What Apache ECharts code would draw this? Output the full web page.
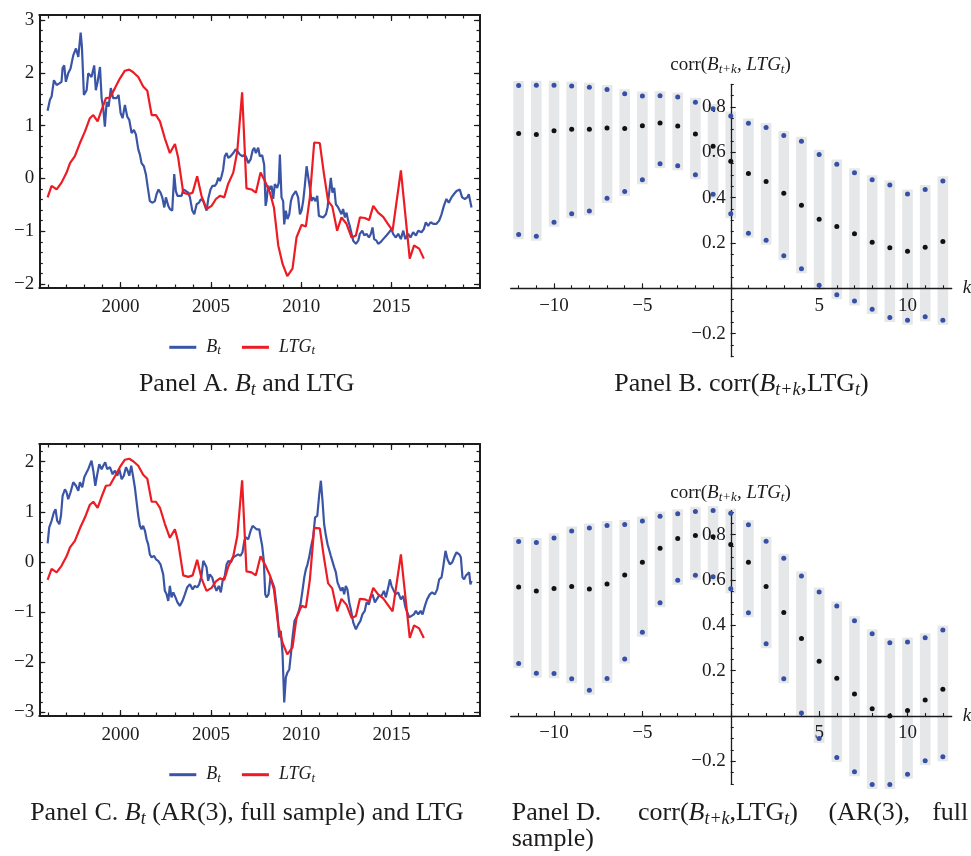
<!DOCTYPE html>
<html><head><meta charset="utf-8">
<script src="https://cdn.jsdelivr.net/npm/echarts@6/dist/echarts.min.js"></script>
<style>html,body{margin:0;padding:0;background:#fff}#c{width:971px;height:856px}</style>
</head><body><div id="c"></div>
<script>
// ---------- data ----------
const yearMajor = [2000, 2005, 2010, 2015];
const yearMinor = [1996,1997,1998,1999,2000,2001,2002,2003,2004,2005,2006,2007,2008,2009,2010,2011,2012,2013,2014,2015,2016,2017,2018,2019];
const yTicksA = [-2, -1, 0, 1, 2, 3];
const yTicksC = [-3, -2, -1, 0, 1, 2];
const kVals = [-12,-11,-10,-9,-8,-7,-6,-5,-4,-3,-2,-1,0,1,2,3,4,5,6,7,8,9,10,11,12];
const kMajor = [-10, -5, 0, 5, 10];
const kLabels = [-10, -5, 5, 10];
const corrMajor = [-0.2, 0, 0.2, 0.4, 0.6, 0.8];
const corrLabels = [-0.2, 0.2, 0.4, 0.6, 0.8];

// Panel B
const bMid = [0.683,0.679,0.695,0.702,0.702,0.708,0.705,0.717,0.730,0.716,0.681,0.627,0.561,0.507,0.471,0.419,0.366,0.305,0.273,0.241,0.203,0.179,0.163,0.181,0.207];
const bLow = [0.237,0.230,0.292,0.329,0.341,0.397,0.427,0.479,0.550,0.541,0.501,0.415,0.329,0.243,0.212,0.144,0.086,0.013,-0.028,-0.056,-0.093,-0.129,-0.141,-0.126,-0.141];
const bUp  = [0.895,0.896,0.896,0.893,0.887,0.877,0.859,0.849,0.850,0.844,0.821,0.793,0.760,0.729,0.710,0.674,0.649,0.591,0.548,0.510,0.479,0.456,0.416,0.436,0.474];
// Panel D
const dMid = [0.569,0.552,0.563,0.572,0.560,0.583,0.622,0.678,0.740,0.783,0.796,0.791,0.757,0.678,0.571,0.457,0.342,0.242,0.167,0.097,0.032,0.000,0.024,0.071,0.118];
const dLow = [0.232,0.189,0.187,0.164,0.114,0.165,0.252,0.370,0.500,0.599,0.621,0.614,0.562,0.456,0.319,0.164,0.013,-0.099,-0.183,-0.246,-0.302,-0.302,-0.257,-0.198,-0.180];
const dUp  = [0.770,0.766,0.786,0.816,0.830,0.841,0.845,0.860,0.882,0.892,0.903,0.907,0.895,0.844,0.771,0.696,0.618,0.547,0.485,0.420,0.363,0.323,0.326,0.345,0.379];

// Panel A: B_t
const bA = [[1995.96,1.28],[1996.09,1.49],[1996.18,1.55],[1996.31,1.86],[1996.46,1.77],[1996.61,1.80],[1996.73,1.83],[1996.79,2.09],[1996.88,2.14],[1996.97,1.83],[1997.10,1.99],[1997.23,2.08],[1997.38,2.33],[1997.53,2.46],[1997.66,2.30],[1997.79,2.76],[1997.86,2.49],[1997.97,1.58],[1998.12,1.67],[1998.21,1.99],[1998.39,1.92],[1998.54,2.14],[1998.63,1.67],[1998.73,1.83],[1998.86,2.11],[1998.95,1.52],[1999.04,1.33],[1999.13,0.98],[1999.23,1.45],[1999.34,1.36],[1999.46,1.71],[1999.59,1.52],[1999.78,1.52],[1999.89,1.58],[2000.00,1.24],[2000.11,1.14],[2000.24,1.39],[2000.37,1.17],[2000.48,1.11],[2000.61,0.86],[2000.74,0.92],[2000.85,0.83],[2000.98,0.55],[2001.07,0.45],[2001.16,0.29],[2001.29,0.23],[2001.40,0.08],[2001.51,-0.18],[2001.62,-0.43],[2001.77,-0.46],[2001.90,-0.43],[2001.99,-0.30],[2002.10,-0.21],[2002.21,-0.27],[2002.31,-0.36],[2002.42,-0.55],[2002.51,-0.36],[2002.64,-0.52],[2002.73,-0.58],[2002.86,-0.61],[2002.97,0.08],[2003.06,-0.24],[2003.15,-0.33],[2003.25,-0.36],[2003.38,-0.33],[2003.47,-0.21],[2003.62,-0.24],[2003.75,-0.27],[2003.84,-0.36],[2003.97,-0.61],[2004.08,-0.68],[2004.21,-0.49],[2004.34,-0.46],[2004.45,-0.39],[2004.58,-0.43],[2004.67,-0.52],[2004.76,-0.61],[2004.87,-0.36],[2004.98,-0.21],[2005.09,-0.14],[2005.22,-0.14],[2005.31,-0.10],[2005.41,0.01],[2005.50,-0.05],[2005.59,0.04],[2005.68,0.17],[2005.77,0.42],[2005.87,0.48],[2005.96,0.39],[2006.09,0.42],[2006.24,0.48],[2006.37,0.55],[2006.48,0.51],[2006.61,0.45],[2006.75,0.42],[2006.88,0.45],[2006.97,0.39],[2007.07,0.29],[2007.20,0.36],[2007.31,0.53],[2007.40,0.58],[2007.49,0.48],[2007.62,0.58],[2007.71,0.42],[2007.84,0.44],[2007.95,0.26],[2008.03,-0.52],[2008.08,-0.43],[2008.17,-0.14],[2008.27,-0.21],[2008.36,-0.14],[2008.45,-0.39],[2008.54,-0.11],[2008.67,-0.18],[2008.76,-0.08],[2008.82,0.45],[2008.91,-0.36],[2009.00,-0.43],[2009.06,-0.87],[2009.15,-0.61],[2009.24,-0.77],[2009.34,-0.68],[2009.43,-0.43],[2009.52,-0.33],[2009.61,-0.30],[2009.70,-0.24],[2009.83,-0.36],[2009.93,-0.68],[2010.02,-0.61],[2010.11,-0.43],[2010.20,-0.14],[2010.30,0.23],[2010.39,0.26],[2010.48,-0.18],[2010.57,-0.43],[2010.66,-0.36],[2010.79,-0.43],[2010.89,-0.33],[2010.98,-0.71],[2011.09,-0.68],[2011.22,-0.74],[2011.37,-0.68],[2011.46,-0.55],[2011.55,-0.52],[2011.64,0.01],[2011.73,-0.27],[2011.83,-0.18],[2011.92,-0.49],[2012.05,-0.55],[2012.14,-0.55],[2012.23,-0.68],[2012.32,-0.58],[2012.42,-0.74],[2012.51,-0.65],[2012.60,-0.80],[2012.69,-0.90],[2012.79,-1.05],[2012.88,-1.18],[2013.03,-1.24],[2013.16,-1.18],[2013.25,-1.05],[2013.38,-0.99],[2013.49,-1.08],[2013.62,-1.05],[2013.75,-1.12],[2013.86,-1.05],[2013.95,-0.93],[2014.04,-1.15],[2014.17,-1.18],[2014.26,-1.24],[2014.39,-1.21],[2014.54,-1.15],[2014.72,-1.08],[2014.87,-1.02],[2015.00,-0.96],[2015.09,-1.05],[2015.24,-1.12],[2015.37,-1.05],[2015.52,-1.15],[2015.65,-0.99],[2015.77,-1.15],[2015.92,-1.05],[2016.05,-1.12],[2016.20,-1.02],[2016.35,-1.08],[2016.48,-0.99],[2016.66,-1.02],[2016.79,-0.96],[2016.90,-0.83],[2017.03,-0.90],[2017.16,-0.83],[2017.31,-0.86],[2017.49,-0.86],[2017.64,-0.80],[2017.77,-0.68],[2017.90,-0.52],[2018.04,-0.39],[2018.17,-0.46],[2018.32,-0.36],[2018.45,-0.30],[2018.60,-0.24],[2018.78,-0.21],[2018.91,-0.36],[2019.06,-0.39],[2019.19,-0.36],[2019.28,-0.30],[2019.43,-0.55]];

// LTG_t (same in Panels A and C)
const ltg = [[1995.96,-0.36],[1996.18,-0.14],[1996.46,-0.21],[1996.73,-0.08],[1997.01,0.11],[1997.20,0.29],[1997.47,0.42],[1997.75,0.67],[1998.03,0.89],[1998.30,1.14],[1998.49,1.20],[1998.73,1.08],[1998.95,1.30],[1999.19,1.52],[1999.41,1.53],[1999.69,1.71],[1999.96,1.89],[2000.24,2.04],[2000.48,2.06],[2000.70,2.01],[2000.98,1.92],[2001.25,1.74],[2001.48,1.66],[2001.72,1.20],[2001.96,1.20],[2002.18,1.08],[2002.45,0.76],[2002.73,0.48],[2003.01,0.65],[2003.19,0.39],[2003.47,-0.27],[2003.75,-0.30],[2003.99,-0.27],[2004.24,0.04],[2004.48,-0.33],[2004.76,-0.58],[2005.04,-0.52],[2005.28,-0.39],[2005.50,-0.33],[2005.74,-0.36],[2005.96,-0.10],[2006.24,0.11],[2006.46,0.51],[2006.73,1.63],[2006.97,-0.19],[2007.25,-0.21],[2007.49,-0.27],[2007.75,0.11],[2007.99,-0.05],[2008.27,-0.27],[2008.49,-0.55],[2008.73,-1.27],[2008.97,-1.62],[2009.23,-1.85],[2009.52,-1.71],[2009.74,-1.12],[2010.02,-0.88],[2010.26,-0.91],[2010.48,-0.36],[2010.72,0.68],[2011.03,0.67],[2011.25,0.11],[2011.49,-0.43],[2011.72,-0.53],[2011.99,-0.99],[2012.23,-0.74],[2012.51,-0.86],[2012.79,-1.12],[2013.03,-1.08],[2013.25,-0.74],[2013.52,-0.75],[2013.76,-0.79],[2013.99,-0.52],[2014.26,-0.65],[2014.54,-0.73],[2014.78,-0.85],[2015.06,-0.99],[2015.52,0.15],[2016.01,-1.52],[2016.25,-1.27],[2016.53,-1.33],[2016.79,-1.52]];

// Panel C: B_t (AR(3), full sample)
const bC = [[1995.96,0.37],[1996.05,0.69],[1996.18,0.82],[1996.31,0.99],[1996.40,1.05],[1996.49,0.82],[1996.61,0.75],[1996.70,0.92],[1996.79,1.32],[1996.92,1.45],[1997.01,1.39],[1997.10,1.25],[1997.23,1.39],[1997.38,1.59],[1997.53,1.52],[1997.66,1.42],[1997.75,1.59],[1997.88,1.49],[1997.99,1.69],[1998.12,1.79],[1998.21,1.85],[1998.30,1.82],[1998.39,2.02],[1998.49,1.82],[1998.60,1.52],[1998.71,1.75],[1998.82,1.95],[1998.95,1.85],[1999.04,1.92],[1999.15,1.99],[1999.26,1.85],[1999.41,1.89],[1999.56,1.75],[1999.69,1.82],[1999.82,1.72],[1999.93,1.85],[2000.06,1.65],[2000.18,1.72],[2000.30,1.89],[2000.39,1.82],[2000.48,1.72],[2000.59,1.92],[2000.70,1.69],[2000.79,1.49],[2000.89,1.19],[2000.98,0.92],[2001.07,0.72],[2001.16,0.65],[2001.25,0.72],[2001.35,0.62],[2001.44,0.45],[2001.53,0.35],[2001.62,0.15],[2001.72,0.09],[2001.85,0.12],[2001.96,0.05],[2002.08,0.02],[2002.21,-0.05],[2002.36,-0.25],[2002.45,-0.58],[2002.55,-0.65],[2002.64,-0.78],[2002.73,-0.48],[2002.82,-0.71],[2002.92,-0.61],[2003.04,-0.71],[2003.15,-0.81],[2003.28,-0.88],[2003.43,-0.78],[2003.56,-0.65],[2003.69,-0.51],[2003.84,-0.45],[2003.99,-0.55],[2004.11,-0.48],[2004.24,-0.51],[2004.35,-0.45],[2004.48,-0.28],[2004.58,0.02],[2004.67,0.05],[2004.76,-0.11],[2004.85,-0.38],[2004.94,-0.25],[2005.07,-0.31],[2005.18,-0.45],[2005.31,-0.58],[2005.44,-0.48],[2005.55,-0.61],[2005.65,-0.38],[2005.77,-0.28],[2005.87,-0.05],[2005.98,0.02],[2006.11,-0.01],[2006.24,0.09],[2006.37,0.12],[2006.51,0.15],[2006.64,0.12],[2006.75,0.19],[2006.85,0.42],[2006.94,0.49],[2007.07,0.45],[2007.20,0.62],[2007.31,0.72],[2007.42,0.75],[2007.53,0.65],[2007.68,0.65],[2007.75,0.49],[2007.84,0.32],[2007.93,0.02],[2008.01,-0.65],[2008.08,-0.71],[2008.19,-0.65],[2008.30,-0.31],[2008.41,-0.31],[2008.51,-0.51],[2008.60,-0.78],[2008.69,-1.05],[2008.78,-1.51],[2008.87,-1.38],[2008.97,-1.85],[2009.06,-2.81],[2009.15,-2.31],[2009.24,-2.21],[2009.34,-2.15],[2009.43,-1.85],[2009.52,-1.51],[2009.63,-1.18],[2009.74,-1.11],[2009.87,-0.98],[2009.96,-0.85],[2010.07,-0.58],[2010.17,-0.31],[2010.26,-0.15],[2010.35,-0.05],[2010.44,0.09],[2010.54,0.29],[2010.66,0.49],[2010.77,0.89],[2010.89,0.92],[2011.00,1.35],[2011.09,1.62],[2011.18,1.22],[2011.27,0.75],[2011.37,0.52],[2011.46,0.35],[2011.55,0.32],[2011.64,0.12],[2011.73,0.09],[2011.83,-0.11],[2011.92,-0.21],[2012.01,-0.41],[2012.10,-0.41],[2012.20,-0.58],[2012.29,-0.51],[2012.38,-0.65],[2012.47,-0.48],[2012.56,-0.55],[2012.66,-0.81],[2012.75,-0.95],[2012.88,-1.21],[2013.03,-1.35],[2013.16,-1.25],[2013.28,-1.18],[2013.39,-1.05],[2013.52,-0.98],[2013.62,-0.81],[2013.75,-0.85],[2013.84,-0.71],[2013.95,-0.65],[2014.08,-0.81],[2014.17,-0.78],[2014.30,-0.68],[2014.45,-0.68],[2014.58,-0.58],[2014.69,-0.71],[2014.82,-0.51],[2014.91,-0.35],[2015.00,-0.48],[2015.09,-0.55],[2015.22,-0.65],[2015.37,-0.61],[2015.52,-0.75],[2015.65,-0.68],[2015.77,-0.91],[2015.87,-0.88],[2015.98,-1.11],[2016.11,-1.08],[2016.24,-1.05],[2016.35,-0.98],[2016.48,-1.05],[2016.61,-0.98],[2016.72,-1.05],[2016.85,-0.88],[2016.97,-0.75],[2017.12,-0.65],[2017.25,-0.61],[2017.40,-0.65],[2017.53,-0.55],[2017.64,-0.35],[2017.77,-0.31],[2017.86,-0.11],[2017.99,0.22],[2018.10,0.05],[2018.23,-0.05],[2018.36,-0.01],[2018.47,0.09],[2018.60,0.19],[2018.75,0.15],[2018.84,0.09],[2018.93,-0.31],[2019.02,-0.35],[2019.11,-0.28],[2019.21,-0.31],[2019.30,-0.21],[2019.37,-0.45],[2019.43,-0.38]];

// ---------- styling ----------
const FONT = "'Liberation Serif', 'Times New Roman', serif";
const INK = '#1c1c1c';
const BLUE = '#3a55a5';
const RED = '#ed1c24';
const DOT_BLUE = '#3550a6';
const DOT_BLACK = '#111111';
const BAND = '#e6e7e9';

function steps(a, b, s) { const out = []; for (let v = a; v <= b + 1e-9; v += s) out.push(Math.round(v * 1000) / 1000); return out; }
const yMinorA = steps(-2, 3, 0.2);
const yMinorC = steps(-3, 2.2, 0.2);
const corrMinor = steps(-0.3, 0.9, 0.05);
const fmtNum = v => (v < 0 ? '\u2212' : '') + String(Math.abs(Math.round(v * 100) / 100));

const gridRects = [
  { left: 39.3, top: 15, width: 440.7, height: 273 },     // A
  { left: 510.7, top: 84.4, width: 441, height: 272.3 },  // B
  { left: 39.3, top: 444, width: 440.7, height: 272 },    // C
  { left: 510.7, top: 510.7, width: 441, height: 273.7 }  // D
];
const grids = gridRects.map(g => Object.assign({ outerBoundsMode: 'none', containLabel: false }, g));

const xAxes = [], yAxes = [];
const labelStyle = { fontFamily: FONT, fontSize: 19, color: INK };

function frame(grid, dim, range, major, minor) {
  const list = dim === 'x' ? xAxes : yAxes;
  const first = list.length;
  const pos = dim === 'x' ? ['bottom', 'top'] : ['left', 'right'];
  pos.forEach((p, side) => {
    [major, minor].forEach((vals, m) => {
      list.push({
        gridIndex: grid, type: 'value', position: p, min: range[0], max: range[1], z: 3,
        splitLine: { show: false },
        axisLine: { show: m === 0, onZero: false, lineStyle: { color: INK, width: 2 } },
        axisTick: { show: true, inside: true, length: m === 0 ? 6 : 3.5, customValues: vals, lineStyle: { color: INK, width: 1.2 } },
        axisLabel: (side === 0 && m === 0)
          ? Object.assign({ show: true, customValues: major, formatter: fmtNum, margin: dim === 'x' ? 10 : 5 }, labelStyle)
          : { show: false }
      });
    });
  });
  return first;
}

// axes crossing at the origin: the x axis is shifted up to y = 0, the y axis right to x = 0
function cross(grid, xRange, yRange) {
  const g = gridRects[grid];
  const xShift = -g.height * (0 - yRange[0]) / (yRange[1] - yRange[0]);
  const yShift = -g.width * (0 - xRange[0]) / (xRange[1] - xRange[0]);
  const xi = xAxes.length, yi = yAxes.length;
  const line = { color: INK, width: 1.3 };
  const tick = { color: INK, width: 1.1 };
  const common = { gridIndex: grid, type: 'value', z: 3, splitLine: { show: false } };
  xAxes.push(Object.assign({}, common, {
    position: 'bottom', offset: xShift, min: xRange[0], max: xRange[1],
    axisLine: { show: true, onZero: false, lineStyle: line },
    axisTick: { show: true, inside: true, length: 5, customValues: kMajor, lineStyle: tick },
    axisLabel: Object.assign({ show: true, customValues: kLabels, formatter: fmtNum, margin: 8 }, labelStyle),
    name: 'k', nameLocation: 'end', nameGap: 11,
    nameTextStyle: { fontFamily: FONT, fontStyle: 'italic', fontSize: 19, color: INK }
  }));
  xAxes.push(Object.assign({}, common, {
    position: 'bottom', offset: xShift, min: xRange[0], max: xRange[1],
    axisLine: { show: false, onZero: false },
    axisTick: { show: true, inside: true, length: 3, customValues: kVals, lineStyle: tick },
    axisLabel: { show: false }
  }));
  yAxes.push(Object.assign({}, common, {
    position: 'left', offset: yShift, min: yRange[0], max: yRange[1],
    axisLine: { show: true, onZero: false, lineStyle: line },
    axisTick: { show: true, inside: true, length: 5, customValues: corrMajor, lineStyle: tick },
    axisLabel: Object.assign({ show: true, customValues: corrLabels, formatter: fmtNum, margin: 5 }, labelStyle)
  }));
  yAxes.push(Object.assign({}, common, {
    position: 'left', offset: yShift, min: yRange[0], max: yRange[1],
    axisLine: { show: false, onZero: false },
    axisTick: { show: true, inside: true, length: 3, customValues: corrMinor, lineStyle: tick },
    axisLabel: { show: false }
  }));
  return [xi, yi];
}

const xRangeYears = [1995.5, 2019.9];
const axA = [frame(0, 'x', xRangeYears, yearMajor, yearMinor), frame(0, 'y', [-2.076, 3.095], yTicksA, yMinorA)];
const axB = cross(1, [-12.45, 12.5], [-0.302, 0.90]);
const axC = [frame(2, 'x', xRangeYears, yearMajor, yearMinor), frame(2, 'y', [-3.08, 2.354], yTicksC, yMinorC)];
const axD = cross(3, [-12.45, 12.5], [-0.302, 0.906]);

function lineSeries(name, data, color, ax) {
  return {
    name, type: 'line', data, xAxisIndex: ax[0], yAxisIndex: ax[1],
    showSymbol: false, symbol: 'none', color, itemStyle: { color },
    lineStyle: { color, width: 2.2 }, z: 4, animation: false
  };
}

function corrSeries(mid, low, up, ax) {
  const bands = kVals.map((k, i) => [k, low[i], up[i]]);
  const ends = kVals.map((k, i) => [k, low[i]]).concat(kVals.map((k, i) => [k, up[i]]));
  return [
    {
      type: 'custom', xAxisIndex: ax[0], yAxisIndex: ax[1], data: bands, clip: false, z: 1,
      renderItem: (params, api) => {
        const k = api.value(0), lo = api.value(1), hi = api.value(2);
        const p1 = api.coord([k - 0.3, hi + 0.02]);
        const p2 = api.coord([k + 0.3, lo - 0.02]);
        return { type: 'rect', shape: { x: p1[0], y: p1[1], width: p2[0] - p1[0], height: p2[1] - p1[1] }, style: { fill: BAND } };
      }
    },
    { type: 'scatter', xAxisIndex: ax[0], yAxisIndex: ax[1], data: ends, symbolSize: 5, itemStyle: { color: DOT_BLUE, opacity: 1 }, z: 5, clip: false },
    { type: 'scatter', xAxisIndex: ax[0], yAxisIndex: ax[1], data: kVals.map((k, i) => [k, mid[i]]), symbolSize: 5, itemStyle: { color: DOT_BLACK, opacity: 1 }, z: 5, clip: false }
  ];
}

const legendRich = {
  i: { fontFamily: FONT, fontStyle: 'italic', fontSize: 18, lineHeight: 20, color: INK, padding: [0, 0, 0, 5] },
  s: { fontFamily: FONT, fontStyle: 'italic', fontSize: 13, lineHeight: 11, verticalAlign: 'bottom', color: INK }
};
function legendFor(names, top) {
  return {
    data: names, left: 169.3, top, padding: 0, icon: 'rect', itemWidth: 27, itemHeight: 3, itemGap: 21,
    selectedMode: false,
    formatter: n => n.charAt(0) === 'B' ? '{i|B}{s|t}' : '{i|LTG}{s|t}',
    textStyle: { rich: legendRich }
  };
}

function richText(x, y, text, size, align) {
  const sub = Math.round(size * 0.7);
  const L = Math.round(size * 1.16);
  const subH = Math.max(6, Math.round(L + 0.68 * (sub - size) - 7));
  return {
    type: 'text', x, y, z: 10,
    style: {
      text, align: align || 'center', textAlign: align || 'center', verticalAlign: 'middle', textVerticalAlign: 'middle',
      fill: INK, fontFamily: FONT, fontSize: size,
      rich: {
        r: { fontFamily: FONT, fontSize: size, lineHeight: L, fill: INK, color: INK },
        i: { fontFamily: FONT, fontSize: size, fontStyle: 'italic', lineHeight: L, fill: INK, color: INK },
        s: { fontFamily: FONT, fontSize: sub, fontStyle: 'italic', lineHeight: subH, verticalAlign: 'bottom', fill: INK, color: INK }
      }
    }
  };
}

const corrTitle = '{r|corr(}{i|B}{s|t+k}{r|, }{i|LTG}{s|t}{r|)}';
const CAP = 26;
const graphics = [
  richText(730.5, 65, corrTitle, 19),
  richText(730.5, 493, corrTitle, 19),
  richText(246.7, 384, '{r|Panel A. }{i|B}{s|t}{r| and LTG}', CAP),
  richText(741.5, 384, '{r|Panel B. corr(}{i|B}{s|t+k}{r|,LTG}{s|t}{r|)}', CAP),
  richText(247, 813, '{r|Panel C. }{i|B}{s|t}{r| (AR(3), full sample) and LTG}', CAP),
  richText(511.7, 813, '{r|Panel D.}', CAP, 'left'),
  richText(718, 813, '{r|corr(}{i|B}{s|t+k}{r|,LTG}{s|t}{r|)}', CAP),
  richText(869.2, 813, '{r|(AR(3),}', CAP),
  richText(968.3, 813, '{r|full}', CAP, 'right'),
  richText(511.7, 839, '{r|sample)}', CAP, 'left')
];

const chart = echarts.init(document.getElementById('c'), null, { renderer: 'canvas' });
chart.setOption({
  animation: false,
  backgroundColor: '#ffffff',
  grid: grids,
  xAxis: xAxes,
  yAxis: yAxes,
  legend: [legendFor(['B_A', 'LTG_A'], 338.3), legendFor(['B_C', 'LTG_C'], 765.7)],
  series: [
    lineSeries('B_A', bA, BLUE, [axA[0], axA[1]]),
    lineSeries('LTG_A', ltg, RED, [axA[0], axA[1]]),
    lineSeries('B_C', bC, BLUE, [axC[0], axC[1]]),
    lineSeries('LTG_C', ltg, RED, [axC[0], axC[1]])
  ].concat(corrSeries(bMid, bLow, bUp, axB), corrSeries(dMid, dLow, dUp, axD)),
  graphic: graphics
});
</script></body></html>
